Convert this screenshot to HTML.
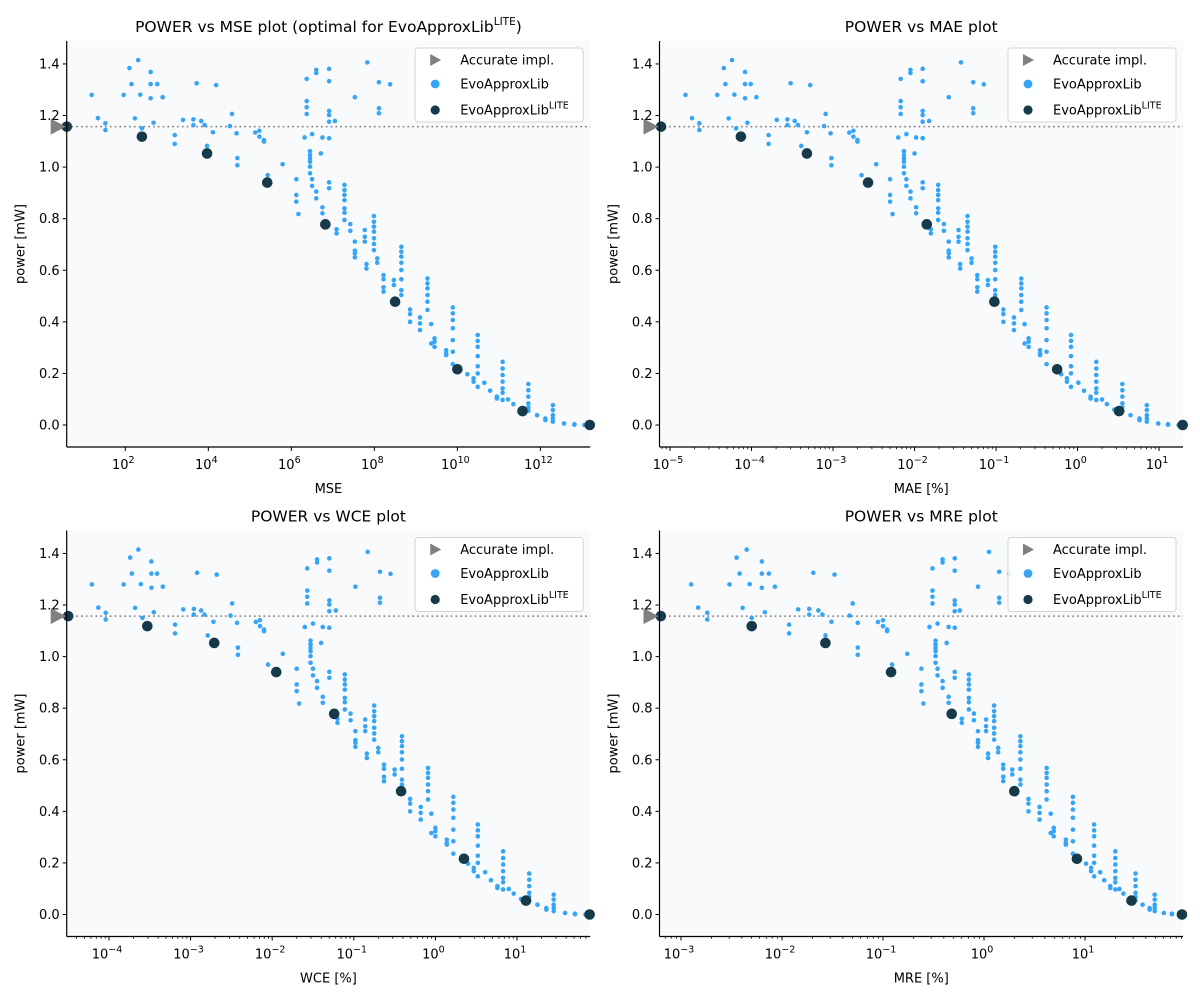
<!DOCTYPE html>
<html><head><meta charset="utf-8"><style>
html,body{margin:0;padding:0;background:#fff;}
svg{display:block;font-family:"DejaVu Sans","Liberation Sans",sans-serif;}
</style></head>
<body>
<svg id="fig" width="1200" height="1000" viewBox="0 0 1200 1000" xmlns="http://www.w3.org/2000/svg"></svg>
<script>
// ---- data ----
// power [mW] of EvoApproxLib circuits, grouped by columns of similar error
const powerGroups = [
[1.28],[1.19],[1.17,1.144],[1.28],[1.384],[1.322],[1.189],[1.415],[1.281],[1.150],
[1.369,1.322,1.267],[1.172],[1.322],[1.271],[1.124,1.090],[1.183],[1.185,1.163],[1.325],[1.179],[1.163],
[1.082],[1.135],[1.318],[1.159],[1.206],[1.131],[1.035,1.007],[1.134],[1.141,1.118],[1.105,1.099],
[0.969],[1.011],[0.953,0.892,0.866],[0.818],[1.115],[1.342,1.256,1.232,1.206],[1.062,1.047,1.034,1.021,1.002,0.976],[0.953,0.927,1.128],[1.377,1.365,0.905,0.879],[1.053],
[1.115,0.844,0.821],[1.381,1.333,1.218,1.202,1.176,1.112,0.941,0.918],[1.179],[0.759,0.743],[0.931,0.911,0.892,0.872,0.840,0.823,0.795],[0.779,0.753],[1.271,0.711,0.676,0.666,0.650],[0.756,0.730,0.711],[0.624,0.607],[1.406],
[0.810,0.788,0.769,0.750,0.724,0.702,0.678],[0.646,0.629],[1.329,1.228,1.209],[0.581,0.565,0.534,0.517],[1.321],[0.562,0.543],[0.691,0.672,0.653,0.629,0.601,0.565,0.523,0.504],[0.448,0.430,0.400],[0.417,0.394,0.368],[0.568,0.549,0.530,0.504,0.478,0.446],
[0.391,0.316],[0.336,0.323,0.303],[0.290,0.277,0.271],[0.456,0.433,0.407,0.375,0.329,0.284,0.236],[0.197],[0.181,0.168],[0.349,0.326,0.303,0.267,0.228,0.200,0.148],[0.164],[0.133],[0.110,0.103],
[0.245,0.219,0.194,0.168,0.142,0.125,0.097],[0.099],[0.081],[0.060],[0.159,0.135,0.110,0.084,0.068,0.055],[0.038],[0.025,0.019],[0.077,0.058,0.038,0.025,0.013],[0.006],[0.003,0.001],[0.0]
];
// log10 of error metric per column
const mseLog10 = [1.19,1.34,1.52,1.96,2.10,2.15,2.23,2.31,2.36,2.40,2.61,2.68,2.77,2.90,3.19,3.39,3.64,3.72,3.83,3.91,3.97,4.11,4.19,4.52,4.57,4.68,4.70,5.13,5.23,5.34,5.43,5.79,6.12,6.17,6.32,6.37,6.45,6.50,6.60,6.71,6.75,6.91,7.05,7.09,7.28,7.42,7.53,7.77,7.81,7.83,7.99,8.07,8.11,8.22,8.38,8.47,8.65,8.86,9.10,9.28,9.37,9.45,9.73,9.89,10.24,10.39,10.49,10.65,10.79,10.95,11.09,11.22,11.35,11.51,11.71,11.92,12.12,12.30,12.57,12.82,13.06];
const maeLog10 = [-4.81,-4.73,-4.64,-4.42,-4.34,-4.32,-4.28,-4.24,-4.21,-4.19,-4.08,-4.05,-4.01,-3.94,-3.79,-3.69,-3.56,-3.52,-3.47,-3.43,-3.39,-3.32,-3.28,-3.11,-3.09,-3.03,-3.02,-2.80,-2.75,-2.70,-2.65,-2.47,-2.30,-2.27,-2.20,-2.17,-2.13,-2.10,-2.05,-2.00,-1.98,-1.90,-1.82,-1.80,-1.71,-1.64,-1.58,-1.46,-1.44,-1.43,-1.35,-1.30,-1.28,-1.23,-1.15,-1.10,-1.01,-0.91,-0.78,-0.69,-0.65,-0.60,-0.46,-0.38,-0.20,-0.13,-0.08,0.01,0.08,0.16,0.23,0.30,0.36,0.45,0.55,0.65,0.76,0.85,0.99,1.11,1.24];
const wceLog10 = [-4.21,-4.13,-4.04,-3.82,-3.74,-3.72,-3.68,-3.64,-3.61,-3.59,-3.48,-3.45,-3.41,-3.34,-3.19,-3.09,-2.96,-2.92,-2.87,-2.83,-2.79,-2.72,-2.68,-2.51,-2.49,-2.43,-2.42,-2.20,-2.15,-2.10,-2.05,-1.87,-1.70,-1.67,-1.60,-1.57,-1.53,-1.50,-1.45,-1.40,-1.38,-1.30,-1.22,-1.20,-1.11,-1.04,-0.98,-0.86,-0.84,-0.83,-0.75,-0.70,-0.68,-0.63,-0.55,-0.50,-0.41,-0.31,-0.18,-0.09,-0.05,0.00,0.14,0.22,0.40,0.47,0.52,0.61,0.68,0.76,0.83,0.90,0.96,1.05,1.15,1.25,1.36,1.45,1.59,1.71,1.84];
const mreLog10 = [-2.90,-2.83,-2.74,-2.52,-2.45,-2.42,-2.39,-2.35,-2.32,-2.30,-2.20,-2.17,-2.13,-2.07,-1.93,-1.84,-1.73,-1.69,-1.64,-1.60,-1.57,-1.51,-1.48,-1.33,-1.30,-1.25,-1.25,-1.05,-1.00,-0.96,-0.91,-0.76,-0.62,-0.60,-0.54,-0.51,-0.48,-0.46,-0.41,-0.37,-0.35,-0.29,-0.24,-0.22,-0.15,-0.10,-0.06,0.02,0.04,0.05,0.10,0.14,0.15,0.19,0.25,0.28,0.36,0.44,0.55,0.62,0.66,0.69,0.81,0.88,1.01,1.06,1.09,1.15,1.19,1.25,1.30,1.34,1.38,1.44,1.50,1.57,1.64,1.69,1.78,1.86,1.94];
// EvoApproxLib LITE
const litePower = [1.157,1.118,1.053,0.940,0.778,0.478,0.216,0.054,0.0];
const liteMse = [0.59,2.40,3.97,5.42,6.82,8.50,10.00,11.57,13.19];
const liteMae = [-5.11,-4.13,-3.32,-2.57,-1.85,-1.02,-0.25,0.51,1.29];
const liteWce = [-4.50,-3.53,-2.71,-1.95,-1.24,-0.42,0.35,1.11,1.89];
const liteMre = [-3.20,-2.30,-1.57,-0.92,-0.32,0.30,0.92,1.46,1.96];
const accuratePower = 1.157;
const yTicks = [0.0,0.2,0.4,0.6,0.8,1.0,1.2,1.4];

const NS = "http://www.w3.org/2000/svg";
const svg = document.getElementById('fig');
function mk(tag, attrs, parent){
  const e = document.createElementNS(NS, tag);
  for (const k in attrs) e.setAttribute(k, attrs[k]);
  (parent||svg).appendChild(e);
  return e;
}
const BLUE = "#36a5f6", DARK = "#173a4b";

const panels = [
  {key:'mse', x0:66.7, y0:41, title:'POWER vs MSE plot (optimal for EvoApproxLib', sup:true, xlabel:'MSE',
   xmin:0.588, xmax:13.20, major:[2,4,6,8,10,12], minor:false, xs:mseLog10, lx:liteMse},
  {key:'mae', x0:659.5, y0:41, title:'POWER vs MAE plot', xlabel:'MAE [%]',
   xmin:-5.129, xmax:1.294, major:[-5,-4,-3,-2,-1,0,1], minor:true, xs:maeLog10, lx:liteMae},
  {key:'wce', x0:66.7, y0:530.5, title:'POWER vs WCE plot', xlabel:'WCE [%]',
   xmin:-4.518, xmax:1.897, major:[-4,-3,-2,-1,0,1], minor:true, xs:wceLog10, lx:liteWce},
  {key:'mre', x0:659.5, y0:530.5, title:'POWER vs MRE plot', xlabel:'MRE [%]',
   xmin:-3.213, xmax:1.970, major:[-3,-2,-1,0,1], minor:true, xs:mreLog10, lx:liteMre}
];
const W = 523.5, H = 406, YMIN = -0.0853, YMAX = 1.489;

panels.forEach(p => {
  const g = mk('g', {});
  
  
  const sx = v => p.x0 + (v - p.xmin) / (p.xmax - p.xmin) * W;
  const sy = v => p.y0 + (YMAX - v) / (YMAX - YMIN) * H;
  const bg = mk('rect', {x:p.x0, y:p.y0, width:W, height:H, fill:'#f8fafc'}, g);
  
  
  // title
  const t = mk('text', {x:p.x0 + W/2, y:p.y0 - 9, 'text-anchor':'middle', 'font-size':'15.5', fill:'#000'}, g);
  
  
  t.appendChild(document.createTextNode(p.title));
  if (p.sup) {
    const s = mk('tspan', {'font-size':'10.5', dy:'-7'}, t); s.textContent = 'LITE';
    const s2 = mk('tspan', {dy:'7'}, t); s2.textContent = ')';
  }
  // accurate dotted line
  const dl = mk('line', {x1:p.x0, x2:p.x0+W, y1:sy(accuratePower), y2:sy(accuratePower), stroke:'#777', 'stroke-width':1.6, 'stroke-dasharray':'1.6,3.2'}, g);
  
  
  // blue points
  p.xs.forEach((xv, i) => {
    powerGroups[i].forEach(pw => {
      const c = mk('circle', {cx:sx(xv), cy:sy(pw), r:2.3, fill:BLUE}, g);
      
      
    });
  });
  // lite points
  p.lx.forEach((xv, i) => {
    const c = mk('circle', {cx:sx(xv), cy:sy(litePower[i]), r:5.3, fill:DARK}, g);
    
    
  });
  // accurate triangle
  const ty = sy(accuratePower), tx = p.x0 - 9;
  const tri = mk('polygon', {points:`${tx-7},${ty-8} ${tx+8},${ty} ${tx-7},${ty+8}`, fill:'#808080'}, g);
  
  
  // spines
  mk('line', {x1:p.x0, x2:p.x0, y1:p.y0, y2:p.y0+H, stroke:'#000', 'stroke-width':1.2}, g);
  mk('line', {x1:p.x0, x2:p.x0+W, y1:p.y0+H, y2:p.y0+H, stroke:'#000', 'stroke-width':1.2}, g);
  // y ticks
  yTicks.forEach(v => {
    const y = sy(v);
    mk('line', {x1:p.x0-4, x2:p.x0, y1:y, y2:y, stroke:'#000', 'stroke-width':1}, g);
    const tl = mk('text', {x:p.x0-7, y:y+4.5, 'text-anchor':'end', 'font-size':'13', fill:'#000'}, g);
    
    
    tl.textContent = v.toFixed(1);
  });
  // x ticks
  p.major.forEach(e => {
    const x = sx(e);
    mk('line', {x1:x, x2:x, y1:p.y0+H, y2:p.y0+H+4, stroke:'#000', 'stroke-width':1}, g);
    const tl = mk('text', {x:x-2, y:p.y0+H+22, 'text-anchor':'middle', 'font-size':'13', fill:'#000'}, g);
    
    
    tl.appendChild(document.createTextNode('10'));
    const s = mk('tspan', {'font-size':'9.5', dy:'-6'}, tl);
    s.textContent = (e < 0 ? '\u2212' + (-e) : '' + e);
  });
  if (p.minor) {
    for (let d = Math.floor(p.xmin); d <= Math.ceil(p.xmax); d++) {
      for (let m = 2; m <= 9; m++) {
        const v = d + Math.log10(m);
        if (v < p.xmin || v > p.xmax) continue;
        const x = sx(v);
        mk('line', {x1:x, x2:x, y1:p.y0+H, y2:p.y0+H+2.2, stroke:'#000', 'stroke-width':0.8}, g);
      }
    }
  }
  // axis labels
  const xl = mk('text', {x:p.x0 + W/2, y:p.y0+H+46, 'text-anchor':'middle', 'font-size':'13', fill:'#000'}, g);
  
  
  xl.textContent = p.xlabel;
  const yl = mk('text', {x:0, y:0, 'text-anchor':'middle', 'font-size':'13', fill:'#000', transform:`translate(${p.x0-42},${p.y0+H/2}) rotate(-90)`}, g);
  
  
  yl.textContent = 'power [mW]';
  // legend
  const lx = p.x0 + W - 175, ly = p.y0 + 7;
  const lg = mk('g', {}, g);
  
  
  mk('rect', {x:lx, y:ly, width:168, height:74, rx:3, fill:'#fff', 'fill-opacity':0.85, stroke:'#d5d5d5', 'stroke-width':1}, lg);
  const rows = [['Accurate impl.', 'tri'], ['EvoApproxLib', 'blue'], ['EvoApproxLib', 'dark']];
  rows.forEach((r, i) => {
    const ry = ly + 12 + i * 24 + (i === 2 ? 2 : 0);
    const mx = lx + 20;
    if (r[1] === 'tri') mk('polygon', {points:`${mx-5},${ry-6} ${mx+6},${ry} ${mx-5},${ry+6}`, fill:'#808080'}, lg);
    else mk('circle', {cx:mx, cy:ry, r:r[1]==='blue'?4.4:4.6, fill:r[1]==='blue'?BLUE:DARK}, lg);
    const tx2 = mk('text', {x:lx+45, y:ry+4.5, 'font-size':'13', fill:'#000'}, lg);
    
    
    tx2.appendChild(document.createTextNode(r[0]));
    if (r[1] === 'dark') { const s = mk('tspan', {'font-size':'9.5', dy:'-6'}, tx2); s.textContent = 'LITE'; }
  });
});
</script>
</body></html>
